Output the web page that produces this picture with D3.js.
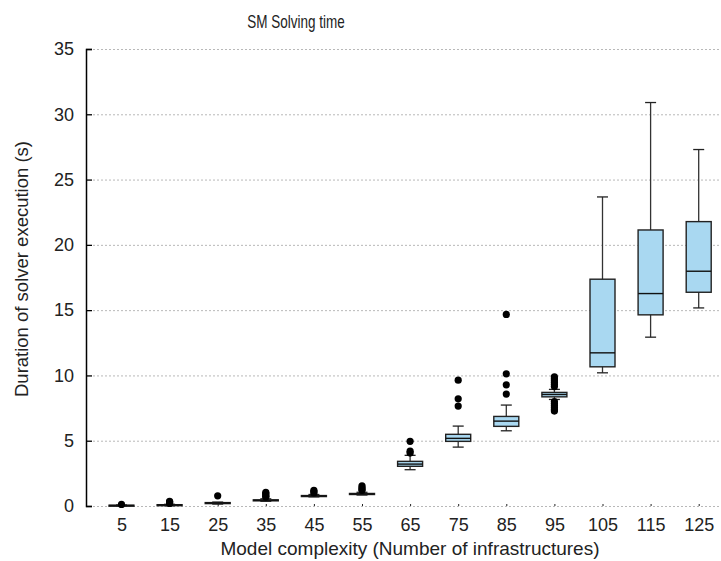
<!DOCTYPE html>
<html>
<head>
<meta charset="utf-8">
<script src="https://cdn.jsdelivr.net/npm/d3@7"></script>
<style>
  body { margin: 0; background: #fff; }
</style>
</head>
<body>
<div id="chart"></div>
<script>
// Data
const categories = ['5', '15', '25', '35', '45', '55', '65', '75', '85', '95', '105', '115', '125'];
const whiskerLow  = [0.00, 0.03, 0.15, 0.36, 0.70, 0.84, 2.78, 4.51, 5.76, 8.16, 10.20, 12.93, 15.17];
const q1          = [0.02, 0.06, 0.19, 0.40, 0.74, 0.88, 3.04, 4.95, 6.10, 8.36, 10.66, 14.64, 16.37];
const medians     = [0.04, 0.08, 0.23, 0.44, 0.77, 0.92, 3.21, 5.18, 6.50, 8.54, 11.73, 16.27, 17.98];
const q3          = [0.06, 0.10, 0.26, 0.47, 0.80, 0.96, 3.42, 5.49, 6.86, 8.70, 17.37, 21.14, 21.78];
const whiskerHigh = [0.08, 0.13, 0.30, 0.55, 0.88, 1.05, 3.88, 6.12, 7.73, 8.93, 23.67, 30.90, 27.30];
const outliers = [
  [0.12],
  [0.36, 0.30, 0.25, 0.20],
  [0.78],
  [1.05, 0.95, 0.85, 0.75, 0.68],
  [1.20, 1.10, 1.00],
  [1.55, 1.40, 1.30, 1.20],
  [4.95, 4.20, 4.05],
  [9.64, 8.21, 7.65],
  [14.67, 10.12, 9.28, 8.57],
  [9.90, 9.75, 9.60, 9.45, 9.30, 9.15, 8.00, 7.85, 7.70, 7.55, 7.40, 7.27],
  [],
  [],
  []
];
const yTicks = [0, 5, 10, 15, 20, 25, 30, 35];

const width = 721;
const height = 561;
const margin = { top: 49, bottom: 55, left: 86 };

const svg = d3.select('#chart')
  .append('svg')
  .attr('width', width)
  .attr('height', height)
  .style('font-family', '"Liberation Sans", Arial, sans-serif');

const x = d3.scalePoint()
  .domain(categories)
  .range([121.5, 698.7]);

const y = d3.scaleLinear()
  .domain([0, 35])
  .range([height - margin.bottom, margin.top]);

// grid
svg.append('g')
  .selectAll('line')
  .data(yTicks)
  .join('line')
  .attr('x1', margin.left + 7)
  .attr('x2', width)
  .attr('y1', d => y(d) + 0.5)
  .attr('y2', d => y(d) + 0.5)
  .attr('stroke', '#b8b8b8')
  .attr('stroke-dasharray', '2,2');

// y axis
const yAxis = svg.append('g')
  .attr('transform', `translate(${margin.left},0)`)
  .call(d3.axisLeft(y).tickValues(yTicks).tickSize(-6).tickPadding(12));
yAxis.select('.domain').attr('stroke', '#000').attr('stroke-width', 1.5);
yAxis.selectAll('.tick line').attr('stroke', '#000').attr('stroke-width', 1.3);
yAxis.selectAll('.tick text')
  .style('font-size', '18px')
  .style('font-family', '"Liberation Sans", Arial, sans-serif')
  .attr('fill', '#222');

// x axis (no domain line, tiny ticks)
const xAxis = svg.append('g')
  .attr('transform', `translate(0,${y(0)})`)
  .call(d3.axisBottom(x).tickSize(-2).tickPadding(12));
xAxis.select('.domain').remove();
xAxis.selectAll('.tick line').attr('stroke', '#222');
xAxis.selectAll('.tick text')
  .style('font-size', '18px')
  .style('font-family', '"Liberation Sans", Arial, sans-serif')
  .attr('fill', '#222');

// boxes
const boxW = 25;
const capW = 11;
const boxes = svg.append('g')
  .selectAll('g')
  .data(categories)
  .join('g');

boxes.append('line')
  .attr('x1', d => x(d))
  .attr('x2', d => x(d))
  .attr('y1', (d, i) => y(whiskerLow[i]))
  .attr('y2', (d, i) => y(whiskerHigh[i]))
  .attr('stroke', '#333')
  .attr('stroke-width', 1.3);

boxes.append('line')
  .attr('x1', d => x(d) - capW / 2)
  .attr('x2', d => x(d) + capW / 2)
  .attr('y1', (d, i) => y(whiskerHigh[i]))
  .attr('y2', (d, i) => y(whiskerHigh[i]))
  .attr('stroke', '#222')
  .attr('stroke-width', 1.3);

boxes.append('line')
  .attr('x1', d => x(d) - capW / 2)
  .attr('x2', d => x(d) + capW / 2)
  .attr('y1', (d, i) => y(whiskerLow[i]))
  .attr('y2', (d, i) => y(whiskerLow[i]))
  .attr('stroke', '#222')
  .attr('stroke-width', 1.3);

boxes.append('rect')
  .attr('x', d => x(d) - boxW / 2)
  .attr('y', (d, i) => y(q3[i]))
  .attr('width', boxW)
  .attr('height', (d, i) => Math.max(1, y(q1[i]) - y(q3[i])))
  .attr('fill', '#a9d8f1')
  .attr('stroke', '#222')
  .attr('stroke-width', 1.4);

boxes.append('line')
  .attr('x1', d => x(d) - boxW / 2)
  .attr('x2', d => x(d) + boxW / 2)
  .attr('y1', (d, i) => y(medians[i]))
  .attr('y2', (d, i) => y(medians[i]))
  .attr('stroke', '#111')
  .attr('stroke-width', 1.4);

// outliers
boxes.selectAll('circle')
  .data((d, i) => outliers[i].map(v => ({ cat: d, v })))
  .join('circle')
  .attr('cx', d => x(d.cat))
  .attr('cy', d => y(d.v))
  .attr('r', 3.6)
  .attr('fill', '#000');

// titles
svg.append('text')
  .attr('transform', 'translate(296,28) scale(0.75,1)')
  .attr('text-anchor', 'middle')
  .style('font-size', '18px')
  .attr('fill', '#222')
  .text('SM Solving time');

svg.append('text')
  .attr('x', 410)
  .attr('y', 555)
  .attr('text-anchor', 'middle')
  .style('font-size', '19px')
  .attr('fill', '#222')
  .text('Model complexity (Number of infrastructures)');

svg.append('text')
  .attr('transform', 'translate(28,269) rotate(-90)')
  .attr('text-anchor', 'middle')
  .style('font-size', '18.5px')
  .attr('fill', '#222')
  .text('Duration of solver execution (s)');
</script>
</body>
</html>
